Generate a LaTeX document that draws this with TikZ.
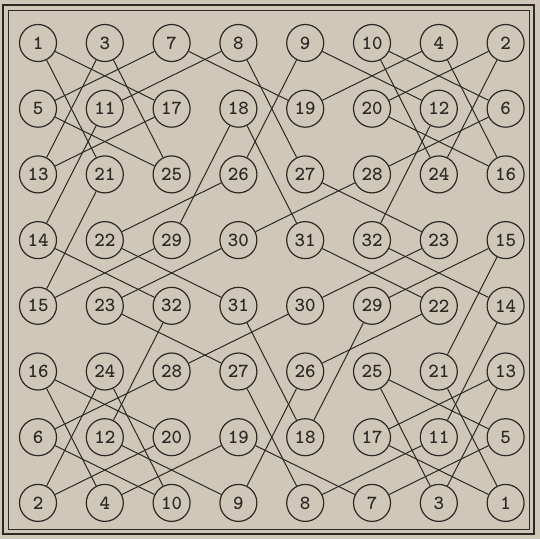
\documentclass[tikz,border=0pt]{standalone}
\definecolor{paper}{RGB}{207,200,185}
\definecolor{ink}{RGB}{45,40,36}
\begin{document}
\begin{tikzpicture}[x=1pt,y=-1pt,
  cell/.style={circle,draw=ink,line width=1.2pt,fill=paper,minimum size=37pt,inner sep=0pt,
    font=\fontsize{20}{20}\selectfont\ttfamily\bfseries,text=ink},
  link/.style={draw=ink,line width=1pt}]
\fill[paper] (0,0) rectangle (540,539);
\useasboundingbox (0,0) rectangle (540,539);
\draw[ink,line width=2pt] (3,5) rectangle (534,534);
\draw[ink,line width=0.8pt] (8,10) rectangle (529,529);
\foreach \r/\lst in {0/{1,3,7,8,9,10,4,2},1/{5,11,17,18,19,20,12,6},2/{13,21,25,26,27,28,24,16},3/{14,22,29,30,31,32,23,15},4/{15,23,32,31,30,29,22,14},5/{16,24,28,27,26,25,21,13},6/{6,12,20,19,18,17,11,5},7/{2,4,10,9,8,7,3,1}}{
  \foreach \v [count=\c from 0] in \lst {
    \node[cell] (n\r\c) at ({38+66.8*\c},{43+65.7*\r}) {\v};
  }
}
\foreach \a/\b/\c/\d in {0/0/1/2,0/0/2/1,0/1/2/0,0/1/2/2,0/2/1/0,0/2/1/4,0/3/1/1,0/3/2/4,0/4/2/3,0/4/1/6,0/5/1/7,0/5/2/6,0/6/1/4,0/6/2/7,0/7/1/5,0/7/2/6,1/0/2/2,1/1/3/0,1/2/2/0,1/3/3/4,1/3/3/2,1/5/2/7,1/6/3/5,1/7/2/5,2/4/3/6,2/5/3/3,2/1/4/0,2/3/3/1,3/2/4/0,3/3/4/1,3/0/4/2,3/1/4/3}{
  \pgfmathtruncatemacro{\ra}{7-\a}
  \pgfmathtruncatemacro{\rb}{7-\b}
  \pgfmathtruncatemacro{\rc}{7-\c}
  \pgfmathtruncatemacro{\rd}{7-\d}
  \draw[link] (n\a\b) -- (n\c\d);
  \draw[link] (n\ra\rb) -- (n\rc\rd);
}
\end{tikzpicture}
\end{document}
